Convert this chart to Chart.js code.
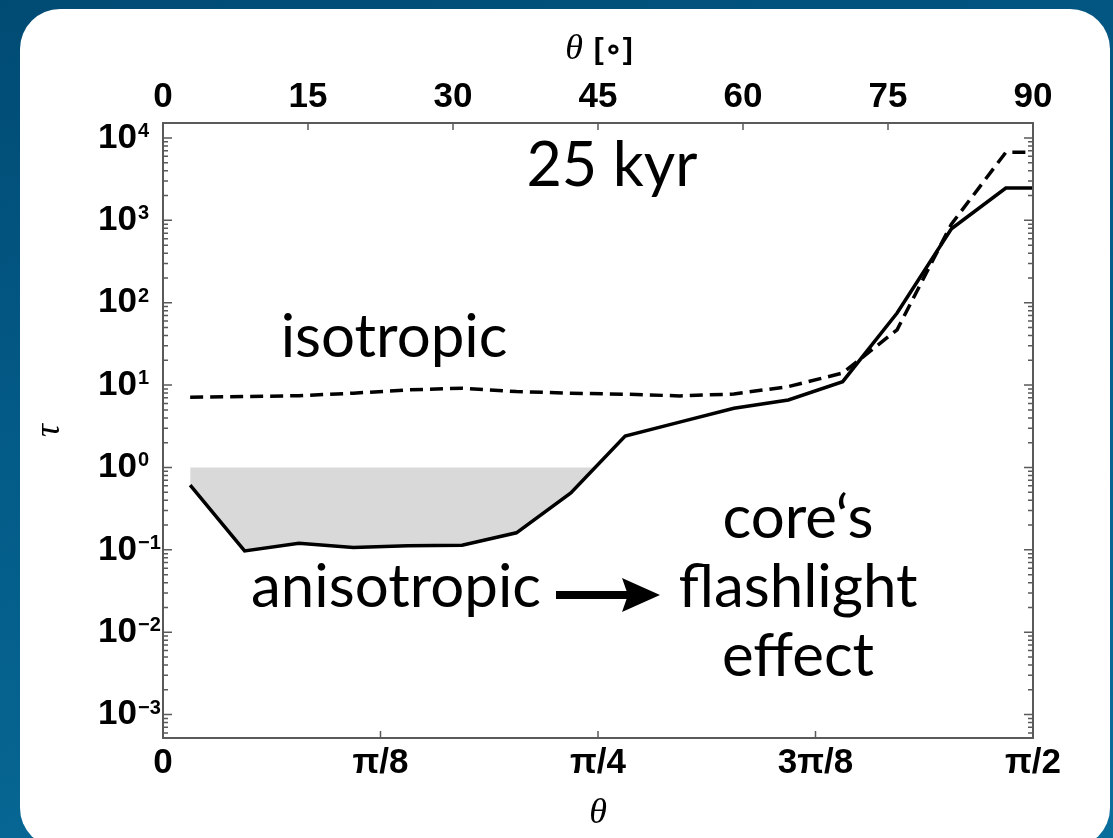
<!DOCTYPE html>
<html><head><meta charset="utf-8">
<script src="https://cdn.jsdelivr.net/npm/chart.js@4"></script>
<style>
html,body{margin:0;padding:0;width:1113px;height:838px;overflow:hidden;}
body{background:linear-gradient(165deg,#004b74 0%,#035b87 40%,#0a6e9c 100%);}
#panel{position:absolute;left:20px;top:9px;width:1090px;height:839px;background:#fff;border-radius:40px;}
#wrap{position:absolute;left:0;top:0;width:1113px;height:838px;}
</style></head>
<body>
<div id="panel"></div>
<div id="wrap"><canvas id="c" width="1113" height="838"></canvas></div>
<script>
// ---- data ----
const thetaDeg = [2.81, 8.44, 14.06, 19.69, 25.31, 30.94, 36.56, 42.19, 47.81, 53.44, 59.06, 64.69, 70.31, 75.94, 81.56, 87.19, 90];
const tauAnisotropic = [0.61, 0.097, 0.12, 0.107, 0.112, 0.114, 0.161, 0.49, 2.41, 3.55, 5.24, 6.6, 11.0, 75, 790, 2470, 2470];
const tauIsotropic = [7.13, 7.26, 7.45, 7.98, 8.75, 9.17, 8.34, 7.98, 7.75, 7.4, 7.8, 9.6, 14.0, 47, 900, 6700, 6700];
const topTickValues = [0, 15, 30, 45, 60, 75, 90];
const bottomTickValues = [0, 22.5, 45, 67.5, 90];
const bottomTickLabels = ['0', 'π/8', 'π/4', '3π/8', 'π/2'];
const yExponents = [-3, -2, -1, 0, 1, 2, 3, 4];
const fillLevel = 1;

// shaded region: anisotropic curve below fillLevel, closed at the crossing
const fillPts = [];
for (let i = 0; i < thetaDeg.length; i++) {
  if (tauAnisotropic[i] < fillLevel) { fillPts.push({x: thetaDeg[i], y: tauAnisotropic[i]}); }
  else {
    const a = Math.log10(tauAnisotropic[i-1]), b = Math.log10(tauAnisotropic[i]);
    const t = (Math.log10(fillLevel) - a) / (b - a);
    fillPts.push({x: thetaDeg[i-1] + t * (thetaDeg[i] - thetaDeg[i-1]), y: fillLevel});
    break;
  }
}

const tickFont = {family: 'Liberation Sans', weight: 'bold', size: 35};
const textFont = 'Lato';

const decor = {
  id: 'decor',
  afterDatasetsDraw(chart) {
    const {ctx, chartArea: ca, scales} = chart;
    const x = scales.x, y = scales.y;
    ctx.save();
    // frame
    ctx.strokeStyle = '#5a5a5a';
    ctx.lineWidth = 2;
    ctx.strokeRect(ca.left, ca.top, ca.right - ca.left, ca.bottom - ca.top);
    ctx.lineWidth = 1.5;
    ctx.beginPath();
    bottomTickValues.forEach(v => { const px = x.getPixelForValue(v); ctx.moveTo(px, ca.bottom); ctx.lineTo(px, ca.bottom - 7); });
    topTickValues.forEach(v => { const px = scales.xTop.getPixelForValue(v); ctx.moveTo(px, ca.top); ctx.lineTo(px, ca.top + 7); });
    for (let e = -4; e <= 4; e++) {
      for (let m = 1; m <= 9; m++) {
        const v = m * Math.pow(10, e);
        if (v < y.min || v > y.max) continue;
        const py = y.getPixelForValue(v);
        const L = m === 1 ? 9 : 5;
        ctx.moveTo(ca.left, py); ctx.lineTo(ca.left + L, py);
        ctx.moveTo(ca.right, py); ctx.lineTo(ca.right - L, py);
      }
    }
    ctx.stroke();
    ctx.restore();
  },
  afterDraw(chart) {
    const {ctx, chartArea: ca, scales} = chart;
    ctx.save();
    ctx.fillStyle = '#000';
    ctx.textBaseline = 'alphabetic';
    // exponents of the y tick labels (the "10" part is drawn by the axis)
    ctx.font = 'bold 20px "Liberation Sans"';
    ctx.textAlign = 'left';
    yExponents.forEach(e => {
      const py = scales.y.getPixelForValue(Math.pow(10, e));
      ctx.fillText(String(e).replace('-', '−'), 138, py - 1);
    });
    // top axis title
    ctx.font = 'italic 36px "Liberation Serif"';
    const w1 = ctx.measureText('θ ').width;
    ctx.font = 'bold 30px "Liberation Sans"';
    const w2 = ctx.measureText('[∘]').width;
    const sx = (ca.left + ca.right) / 2 - (w1 + w2) / 2;
    ctx.font = 'italic 36px "Liberation Serif"';
    ctx.fillText('θ', sx, 59);
    ctx.font = 'bold 30px "Liberation Sans"';
    ctx.fillText('[∘]', sx + w1 + 2, 59);
    // annotations
    ctx.font = '61px ' + textFont;
    ctx.textAlign = 'center';
    ctx.fillText('25 kyr', 612, 186);
    ctx.font = '60px ' + textFont;
    ctx.fillText('isotropic', 394, 357);
    ctx.textAlign = 'left';
    ctx.fillText('anisotropic', 251, 607);
    ctx.textAlign = 'center';
    ctx.fillText('core‘s', 798, 538);
    ctx.fillText('flashlight', 798, 607);
    ctx.fillText('effect', 798, 676);
    // arrow
    ctx.fillRect(556, 591, 72, 8);
    ctx.beginPath();
    ctx.moveTo(622, 578); ctx.lineTo(660, 595); ctx.lineTo(622, 612); ctx.lineTo(628, 595); ctx.closePath();
    ctx.fill();
    ctx.restore();
  }
};

new Chart(document.getElementById('c'), {
  type: 'line',
  data: {
    datasets: [
      {label: 'anisotropic', data: thetaDeg.map((t, i) => ({x: t, y: tauAnisotropic[i]})),
       borderColor: '#000', borderWidth: 3.5, pointRadius: 0, fill: false, order: 1, borderJoinStyle: 'miter'},
      {label: 'isotropic', data: thetaDeg.map((t, i) => ({x: t, y: tauIsotropic[i]})),
       borderColor: '#000', borderWidth: 3.5, borderDash: [13, 7], pointRadius: 0, fill: false, order: 2, borderJoinStyle: 'miter'},
      {label: 'shade', data: fillPts, borderWidth: 0, borderColor: 'rgba(0,0,0,0)', backgroundColor: '#d9d9d9',
       pointRadius: 0, fill: {value: fillLevel}, order: 3}
    ]
  },
  options: {
    responsive: false, animation: false, devicePixelRatio: 1,
    layout: {padding: {left: 0, right: 80, top: 0, bottom: 0}},
    plugins: {legend: {display: false}, tooltip: {enabled: false}},
    scales: {
      x: {
        type: 'linear', position: 'bottom', min: 0, max: 90,
        afterBuildTicks: s => { s.ticks = bottomTickValues.map(v => ({value: v})); },
        afterFit: s => { s.height = 100; },
        grid: {display: false, drawTicks: false}, border: {display: false},
        ticks: {autoSkip: false, maxRotation: 0, color: '#000', font: tickFont, padding: 4,
                callback: (v, i) => bottomTickLabels[i]},
        title: {display: true, text: 'θ', color: '#000', font: {family: 'Liberation Serif', style: 'italic', size: 36}, padding: {top: 0, bottom: 3}}
      },
      xTop: {
        type: 'linear', position: 'top', min: 0, max: 90,
        afterBuildTicks: s => { s.ticks = topTickValues.map(v => ({value: v})); },
        afterFit: s => { s.height = 123; },
        grid: {display: false, drawTicks: false}, border: {display: false},
        ticks: {autoSkip: false, maxRotation: 0, color: '#000', font: tickFont, padding: 5}
      },
      y: {
        type: 'logarithmic', position: 'left', min: Math.pow(10, -3.284), max: Math.pow(10, 4.182),
        afterBuildTicks: s => { s.ticks = yExponents.map(e => ({value: Math.pow(10, e)})); },
        afterFit: s => { s.width = 163; },
        grid: {display: false, drawTicks: false}, border: {display: false},
        ticks: {autoSkip: false, color: '#000', font: tickFont, padding: 26,
                callback: () => '10'},
        title: {display: true, text: 'τ', color: '#000', font: {family: 'Liberation Serif', style: 'italic', size: 36}, padding: {top: 28, bottom: 0}}
      }
    }
  },
  plugins: [decor]
});
</script>
</body></html>
